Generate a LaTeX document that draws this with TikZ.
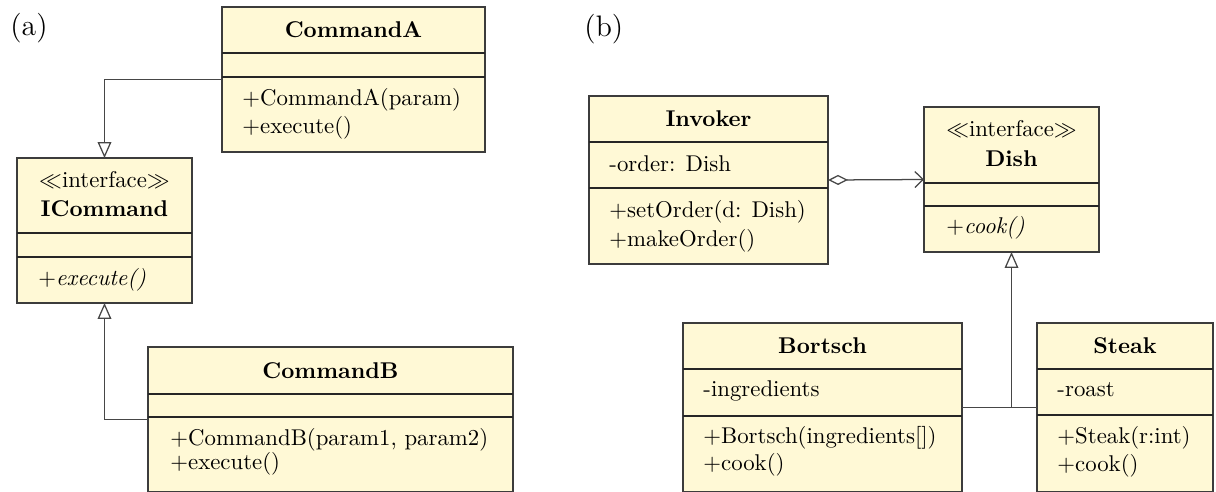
\documentclass[tikz,border=0pt]{standalone}
\usetikzlibrary{arrows.meta,fit,calc}
\definecolor{classfill}{RGB}{255,249,214}
\definecolor{classline}{RGB}{60,60,60}
\definecolor{linkline}{RGB}{70,70,70}

% Draws one class box (name, x1, y1, x2, y2, first divider, second divider)
\newcommand{\umlclassbox}[7]{%
  \node[classbox, fit={(#2,#3)(#4,#5)}] (#1) {};
  \draw[divider] (#2,#6) -- (#4,#6);
  \draw[divider] (#2,#7) -- (#4,#7);
}

\begin{document}
\begin{tikzpicture}[
  x=0.4386pt, y=-0.4386pt,
  classbox/.style={draw=classline, fill=classfill, line width=0.5pt, inner sep=0pt, outer sep=0pt},
  divider/.style={draw=black!85, line width=0.5pt},
  title/.style={font=\bfseries, inner sep=0pt, text height=7pt, text depth=0pt},
  stereo/.style={inner sep=0pt, text height=7pt, text depth=2pt},
  member/.style={anchor=west, inner sep=0pt, text height=7.5pt, text depth=2.5pt},
  panel/.style={anchor=west, inner sep=0pt, font=\fontsize{13}{15}\selectfont},
  link/.style={draw=linkline, line width=0.55pt},
  gen/.style={link, -{Triangle[open, length=7pt, width=6pt]}},
  agg/.style={link, {Diamond[open, length=8.8pt, width=4.4pt]}-{Straight Barb[length=3.6pt, width=7pt]}},
]
\clip (0,0) rectangle (1216,491);
\fill[white] (0,0) rectangle (1216,491);

% ---------------- (a) ----------------
\node[panel] (labA) at (10,28) {(a)};

\umlclassbox{cmdA}{222}{7}{485}{152}{53}{77}
\node[title] (cmdA-name) at (353.5,30) {CommandA};
\node[member] (cmdA-op1) at (242,100) {$+$CommandA(param)};
\node[member] (cmdA-op2) at (242,128) {$+$execute()};

\umlclassbox{icmd}{17}{158}{192}{303}{233}{257}
\node[stereo] (icmd-st) at (104.5,182) {$\ll$interface$\gg$};
\node[title] (icmd-name) at (104.5,209) {ICommand};
\node[member] (icmd-op1) at (38,280) {\itshape $+$execute()};

\umlclassbox{cmdB}{148}{347}{513}{492}{394}{417}
\node[title] (cmdB-name) at (330.5,371) {CommandB};
\node[member] (cmdB-op1) at (170,440) {$+$CommandB(param1, param2)};
\node[member] (cmdB-op2) at (170,464) {$+$execute()};

\draw[gen] (cmdA.west) -| (icmd.north);
\draw[gen] (cmdB.west) -| (icmd.south);

% ---------------- (b) ----------------
\node[panel] (labB) at (584,29) {(b)};

\umlclassbox{inv}{589}{96}{828}{264}{142}{188}
\node[title] (inv-name) at (708.5,119) {Invoker};
\node[member] (inv-at1) at (609,166) {-order: Dish};
\node[member] (inv-op1) at (609,212) {$+$setOrder(d: Dish)};
\node[member] (inv-op2) at (609,241) {$+$makeOrder()};

\umlclassbox{dish}{924}{107}{1099}{252}{183}{206}
\node[stereo] (dish-st) at (1011.5,131) {$\ll$interface$\gg$};
\node[title] (dish-name) at (1011.5,159) {Dish};
\node[member] (dish-op1) at (946,228) {\itshape $+$cook()};

\umlclassbox{bort}{683}{323}{962}{492}{369}{416}
\node[title] (bort-name) at (822.5,346) {Bortsch};
\node[member] (bort-at1) at (703,391) {-ingredients};
\node[member] (bort-op1) at (703,438) {$+$Bortsch(ingredients[])};
\node[member] (bort-op2) at (703,465) {$+$cook()};

\umlclassbox{steak}{1037}{323}{1213}{492}{369}{415}
\node[title] (steak-name) at (1125,346) {Steak};
\node[member] (steak-at1) at (1057,391) {-roast};
\node[member] (steak-op1) at (1057,438) {$+$Steak(r:int)};
\node[member] (steak-op2) at (1057,466) {$+$cook()};

\draw[agg] (inv.east) -- (dish.west);
\coordinate (join) at (bort.east -| dish.south);
\draw[link] (bort.east) -- (steak.west);
\draw[gen] (join) -- (dish.south);
\end{tikzpicture}
\end{document}
